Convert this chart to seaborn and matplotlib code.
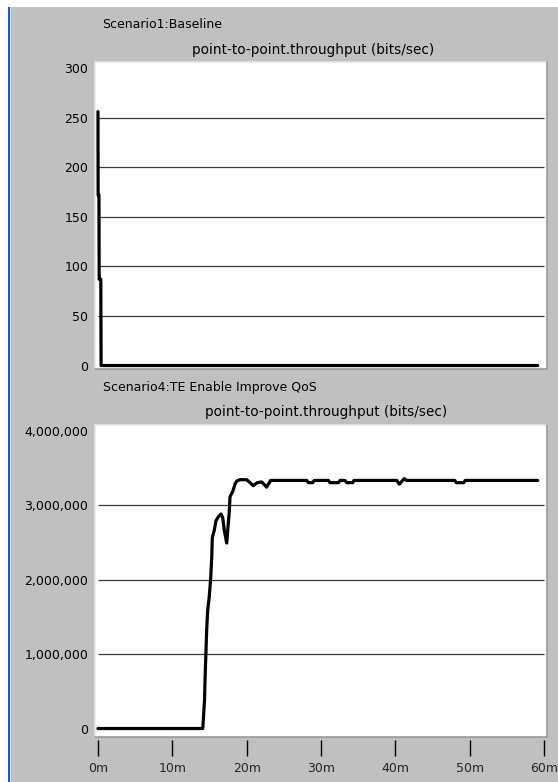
import matplotlib
matplotlib.use("Agg")
import matplotlib.pyplot as plt
from matplotlib.patches import Rectangle
from matplotlib.lines import Line2D
from matplotlib.ticker import FuncFormatter
import seaborn as sns
import pandas as pd

# Scenario 1 (Baseline): throughput in bits/sec, time in minutes
base_time = [0.0, 0.02, 0.13, 0.16, 0.38, 0.42, 59.15]
base_value = [256, 172, 172, 87, 87, 0, 0]

# Scenario 4 (TE Enable Improve QoS): throughput in bits/sec, time in minutes
te_time = [0.0, 14.1, 14.33, 14.40, 14.62, 14.76, 14.97, 15.16, 15.30, 15.38,
           15.64, 15.88, 16.18, 16.55, 16.78, 16.99, 17.32, 17.45, 17.66, 17.76,
           18.12, 18.43, 18.66, 19.10, 20.0, 20.45, 20.89, 21.43, 22.02, 22.69,
           23.23, 28.08, 28.30, 28.88, 29.10, 30.99, 31.21, 32.34, 32.56, 33.23,
           33.46, 34.27, 34.44, 40.19, 40.54, 41.20, 41.50, 48.0, 48.2, 49.2,
           49.4, 59.15]
te_value = [0, 0, 0.38e6, 0.65e6, 1.32e6, 1.59e6, 1.77e6, 2.02e6, 2.29e6, 2.56e6,
            2.66e6, 2.79e6, 2.84e6, 2.88e6, 2.83e6, 2.66e6, 2.49e6, 2.66e6, 2.91e6, 3.11e6,
            3.18e6, 3.28e6, 3.32e6, 3.34e6, 3.34e6, 3.30e6, 3.26e6, 3.30e6, 3.31e6, 3.24e6,
            3.33e6, 3.33e6, 3.30e6, 3.30e6, 3.33e6, 3.33e6, 3.30e6, 3.30e6, 3.33e6, 3.33e6,
            3.30e6, 3.30e6, 3.33e6, 3.33e6, 3.28e6, 3.355e6, 3.33e6, 3.33e6, 3.30e6, 3.30e6,
            3.33e6, 3.33e6]

base_yticks = [0, 50, 100, 150, 200, 250, 300]
te_yticks = [0, 1000000, 2000000, 3000000, 4000000]
x_ticks = [0, 10, 20, 30, 40, 50, 60]
x_ticklabels = ["0m", "10m", "20m", "30m", "40m", "50m", "60m"]

sns.set_style("white")
plt.rcParams["font.family"] = ["DejaVu Sans"]
plt.rcParams["font.size"] = 9

W, H = 558, 782
fig = plt.figure(figsize=(W / 100, H / 100), dpi=100)
fig.patch.set_facecolor("white")

def px(x0, y0, w, h):
    """Pixel box (top-left origin) -> figure fraction rect."""
    return [x0 / W, 1 - (y0 + h) / H, w / W, h / H]

# window background, blue frame edge
fig.add_artist(Rectangle((10 / W, 0), 1, (H - 7) / H, transform=fig.transFigure,
                         facecolor="#c0c0c0", edgecolor="none", zorder=0))
fig.add_artist(Rectangle((8 / W, 0), 2 / W, (H - 7) / H, transform=fig.transFigure,
                         facecolor="#1155ee", edgecolor="none", zorder=0))
fig.add_artist(Rectangle((10 / W, 0), 1 / W, (H - 7) / H, transform=fig.transFigure,
                         facecolor="#e4e4e4", edgecolor="none", zorder=0))

ax1 = fig.add_axes(px(95, 62, 452, 307))
ax2 = fig.add_axes(px(95, 425, 452, 312))

def bevel(ax):
    for s in ax.spines.values():
        s.set_visible(False)
    kw = dict(transform=ax.transAxes, clip_on=False, lw=1.2, zorder=5)
    ax.add_line(Line2D([0, 0], [0, 1], color="#e6e6e6", **kw))
    ax.add_line(Line2D([0, 1], [1, 1], color="#e6e6e6", **kw))
    ax.add_line(Line2D([1, 1], [0, 1], color="#9a9a9a", **kw))
    ax.add_line(Line2D([0, 1], [0, 0], color="#9a9a9a", **kw))

df1 = pd.DataFrame({"t": base_time, "v": base_value})
df2 = pd.DataFrame({"t": te_time, "v": te_value})

for ax, df, yt in ((ax1, df1, base_yticks), (ax2, df2, te_yticks)):
    ax.set_facecolor("white")
    ax.set_xlim(-0.4, 60.4)
    ax.hlines(yt[1:-1], 0, 60, colors="#3a3a3a", lw=0.9, zorder=1)
    sns.lineplot(data=df, x="t", y="v", ax=ax, estimator=None, sort=False,
                 color="black", lw=2.3, zorder=3)
    ax.set_yticks(yt)
    ax.set_xlabel("")
    ax.set_ylabel("")
    ax.tick_params(axis="y", length=0, pad=5, labelsize=9, colors="black")
    bevel(ax)

ax1.set_ylim(-3.5, 306)
ax1.set_xticks([])

ax2.set_ylim(-114000, 4074000)
ax2.yaxis.set_major_formatter(FuncFormatter(lambda v, p: f"{int(round(v)):,}"))
ax2.spines["bottom"].set_position(("outward", 2.2))
ax2.set_xticks(x_ticks)
ax2.set_xticklabels(x_ticklabels)
ax2.tick_params(axis="x", direction="out", length=11.5, width=1.0, pad=4,
                labelsize=9, color="black", bottom=True)

def label(x, y, s, size):
    fig.text(x / W, 1 - y / H, s, ha="left", va="center", fontsize=size, color="black")

label(102, 25, "Scenario1:Baseline", 9)
label(192, 50, "point-to-point.throughput (bits/sec)", 9.8)
label(103, 388, "Scenario4:TE Enable Improve QoS", 9)
label(205, 412, "point-to-point.throughput (bits/sec)", 9.8)

fig.savefig("out.png", dpi=100, facecolor=fig.get_facecolor())
